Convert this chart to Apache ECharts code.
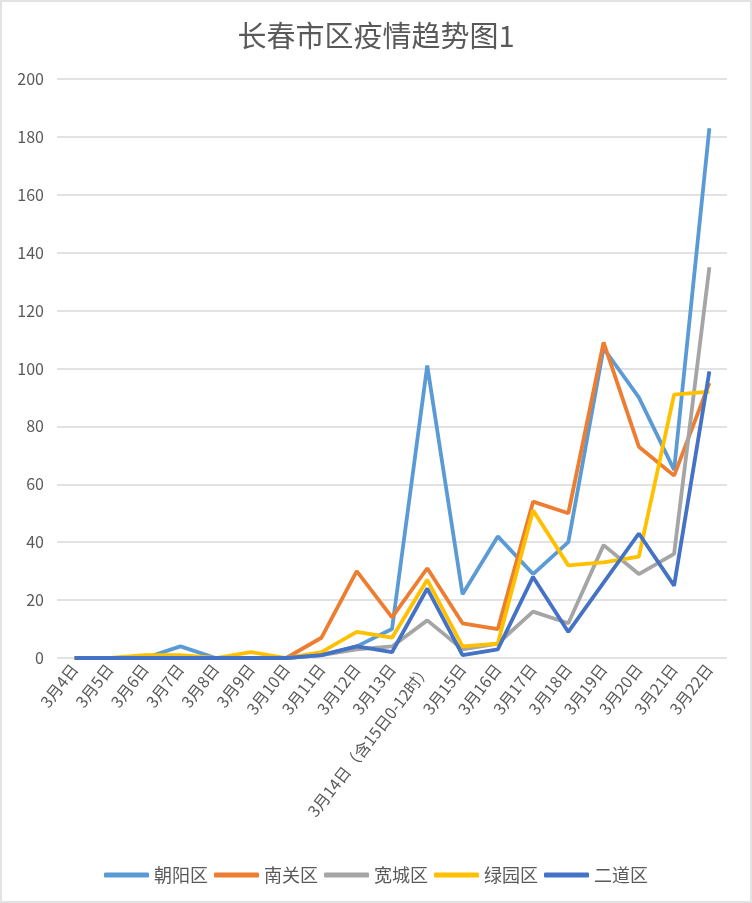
<!DOCTYPE html>
<html>
<head>
<meta charset="utf-8">
<script src="https://cdn.jsdelivr.net/npm/echarts@6/dist/echarts.min.js"></script>
<style>
  html, body { margin: 0; padding: 0; background: #fff; }
  #chart { width: 752px; height: 903px; box-sizing: border-box; border: 2px solid #e3e3e3; }
</style>
</head>
<body>
<div id="chart"></div>
<script>
// 日期
var days = ['3月4日', '3月5日', '3月6日', '3月7日', '3月8日', '3月9日', '3月10日', '3月11日', '3月12日', '3月13日',
    '3月14日（含15日0-12时）', '3月15日', '3月16日', '3月17日', '3月18日', '3月19日', '3月20日', '3月21日', '3月22日']

// 各区数据
var chaoyang = [0, 0, 0, 4, 0, 0, 0, 1, 4, 10, 101, 22, 42, 29, 40, 107, 90, 65, 183]
var nanguan  = [0, 0, 0, 0, 0, 0, 0, 7, 30, 14, 31, 12, 10, 54, 50, 109, 73, 63, 95]
var kuancheng = [0, 0, 0, 0, 0, 0, 0, 1, 3, 4, 13, 3, 5, 16, 12, 39, 29, 36, 135]
var lvyuan   = [0, 0, 1, 1, 0, 2, 0, 2, 9, 7, 27, 4, 5, 51, 32, 33, 35, 91, 92]
var erdao    = [0, 0, 0, 0, 0, 0, 0, 1, 4, 2, 24, 1, 3, 28, 9, 26, 43, 25, 99]

var names = ['朝阳区', '南关区', '宽城区', '绿园区', '二道区']
var colors = ['#5B9BD5', '#ED7D31', '#A5A5A5', '#FFC000', '#4472C4']
var allData = [chaoyang, nanguan, kuancheng, lvyuan, erdao]

var textColor = '#595959'
var font = '"Noto Sans CJK SC", "Noto Sans", sans-serif'

var myChart = echarts.init(document.getElementById('chart'))

// 系列（5个区）
var series = []
for (var i = 0; i < names.length; i++) {
    series.push({
        name: names[i],
        type: 'line',
        data: allData[i],
        showSymbol: false,
        symbol: 'none',
        lineStyle: { width: 3.8, color: colors[i] },
        itemStyle: { color: colors[i] }
    })
}

myChart.setOption({
    animation: false,
    textStyle: { fontFamily: font },
    title: {
        text: '长春市区疫情趋势图1',
        left: 'center',
        top: 14,
        textStyle: { fontSize: 29, fontWeight: 'normal', color: textColor, fontFamily: font }
    },
    grid: {
        left: 55,
        right: 23,
        top: 77,
        bottom: 243,
        containLabel: false
    },
    legend: {
        data: names,
        bottom: 12,
        left: 'center',
        icon: 'roundRect',
        itemWidth: 45,
        itemHeight: 5,
        itemGap: 6,
        textStyle: { fontSize: 18, color: textColor, fontFamily: font }
    },
    xAxis: {
        type: 'category',
        boundaryGap: true,
        data: days,
        axisLine: { show: false },
        axisTick: { show: false },
        axisLabel: {
            rotate: 52,
            interval: 0,
            margin: 8,
            fontSize: 16,
            color: textColor,
            fontFamily: font
        }
    },
    yAxis: {
        type: 'value',
        min: 0,
        max: 200,
        interval: 20,
        axisLine: { show: false },
        axisTick: { show: false },
        axisLabel: { fontSize: 16, color: textColor, margin: 13, fontFamily: font },
        splitLine: { lineStyle: { color: '#d9d9d9', width: 1.5 } }
    },
    series: series
})
</script>
</body>
</html>
